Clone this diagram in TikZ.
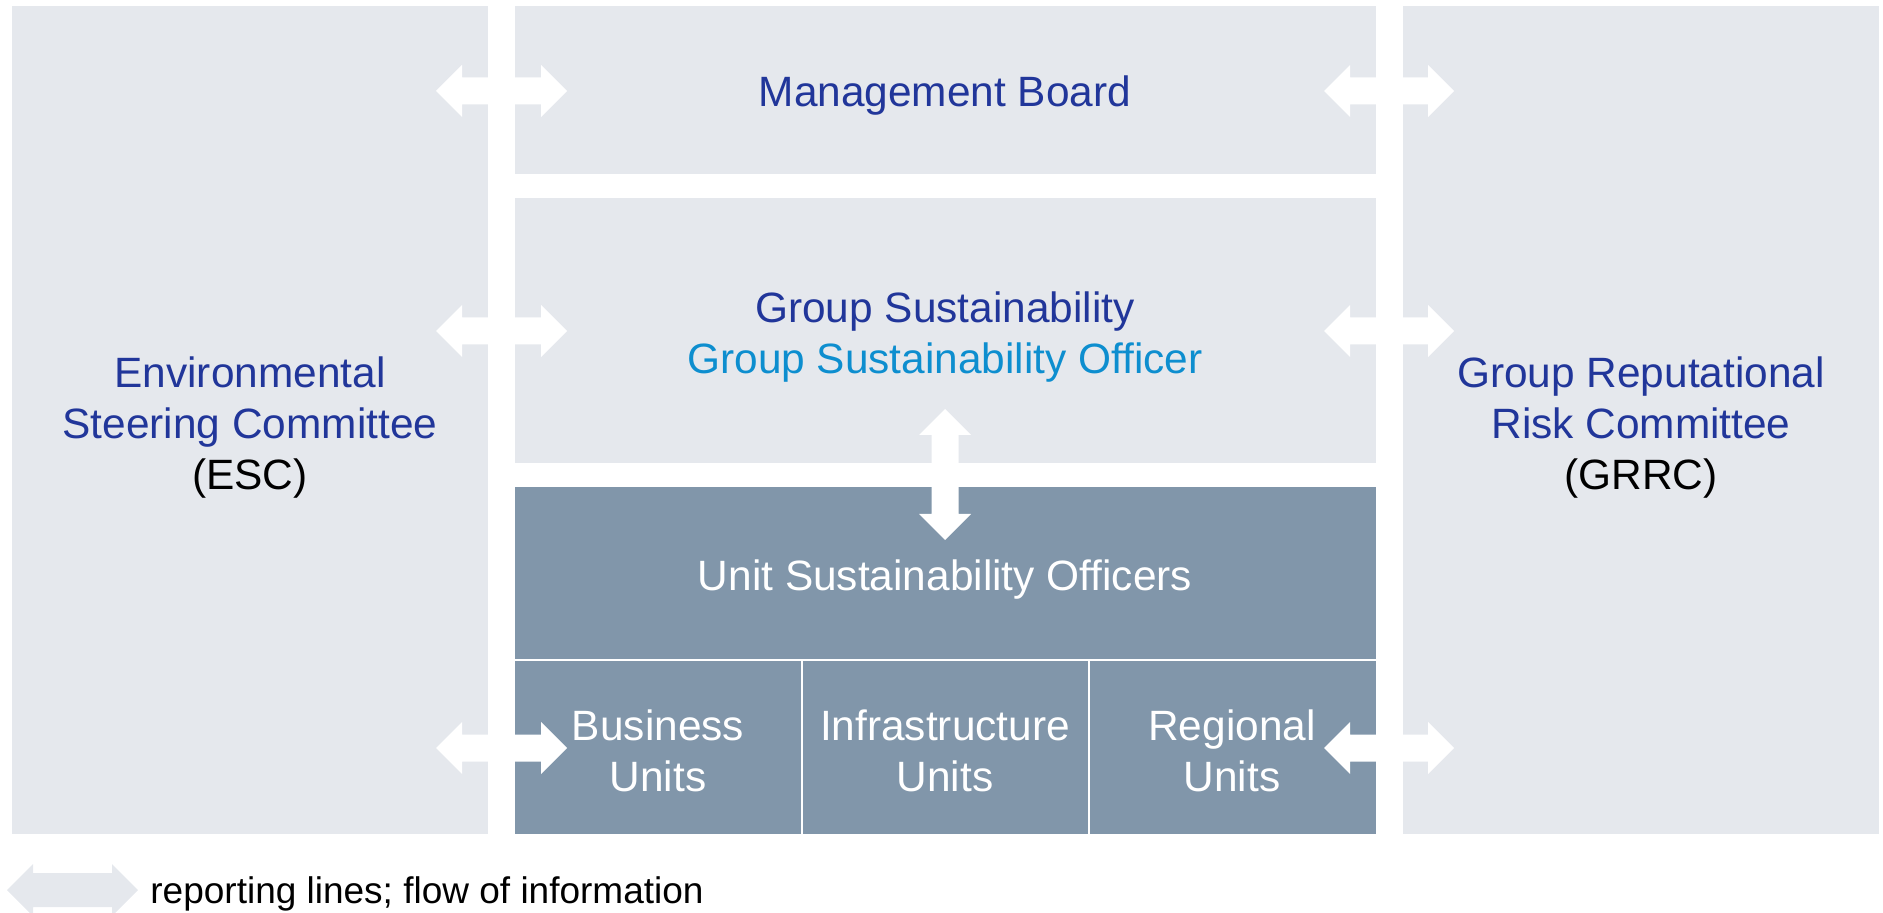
\documentclass[tikz,border=0pt]{standalone}
\usepackage{fontspec}
\setmainfont{Liberation Sans}
\definecolor{panel}{HTML}{E5E8ED}
\definecolor{darkbox}{HTML}{8196AA}
\definecolor{dblue}{HTML}{21369A}
\definecolor{lblue}{HTML}{0D8ECF}
\newcommand\harrow[4]{% x1, x2, y, fill
  \fill[#4] (#1,#3) -- ({#1+26},{#3-26}) -- ({#1+26},{#3-13.5}) -- ({#2-26},{#3-13.5}) -- ({#2-26},{#3-26}) -- (#2,#3)
    -- ({#2-26},{#3+26}) -- ({#2-26},{#3+13.5}) -- ({#1+26},{#3+13.5}) -- ({#1+26},{#3+26}) -- cycle;}
\begin{document}
\begin{tikzpicture}[x=0.5pt,y=-0.5pt,
  txt/.style={inner sep=0pt,align=center,font=\fontsize{21.2}{25.5}\selectfont},
  lightbox/.style={fill=panel},
  darkbx/.style={fill=darkbox}]
\useasboundingbox (0,0) rectangle (1883,913);
% panels
\fill[lightbox] (12,6) rectangle (488,834);
\fill[lightbox] (1403,6) rectangle (1879,834);
\fill[lightbox] (515,6) rectangle (1376,174);
\fill[lightbox] (515,198) rectangle (1376,463);
\fill[darkbx] (515,487) rectangle (1376,659);
\fill[darkbx] (515,661) rectangle (801,834);
\fill[darkbx] (803,661) rectangle (1088,834);
\fill[darkbx] (1090,661) rectangle (1376,834);
% arrows
\harrow{436}{567}{91}{white}
\harrow{1324}{1454}{91}{white}
\harrow{436}{567}{331}{white}
\harrow{1324}{1454}{331}{white}
\harrow{436}{567}{748}{white}
\harrow{1324}{1454}{748}{white}
\fill[white] (945,409) -- (971,435) -- (958.5,435) -- (958.5,514) -- (971,514) -- (945,540) -- (919,514) -- (931.5,514) -- (931.5,435) -- (919,435) -- cycle;
% legend arrow
\fill[panel] (7,890) -- (33,864) -- (33,873) -- (112,873) -- (112,864) -- (138,890) -- (112,916) -- (112,907) -- (33,907) -- (33,916) -- cycle;
% texts
\node[txt,text=dblue] (mb) at (945,96) {Management Board};
\node[txt] (gs) at (945,337) {\textcolor{dblue}{Group Sustainability}\\\textcolor{lblue}{Group Sustainability Officer}};
\node[txt] (esc) at (250,428) {\textcolor{dblue}{Environmental}\\\textcolor{dblue}{Steering Committee}\\(ESC)};
\node[txt] (grrc) at (1641,428) {\textcolor{dblue}{Group Reputational}\\\textcolor{dblue}{Risk Committee}\\(GRRC)};
\node[txt,text=white] (uso) at (945,580) {Unit Sustainability Officers};
\node[txt,text=white] (bu) at (658,751) {Business\\Units};
\node[txt,text=white] (iu) at (945,751) {Infrastructure\\Units};
\node[txt,text=white] (ru) at (1232,751) {Regional\\Units};
\node[inner sep=0pt,anchor=west,font=\fontsize{18.5}{22}\selectfont] (leg) at (150,894) {reporting lines; flow of information};
\end{tikzpicture}
\end{document}
